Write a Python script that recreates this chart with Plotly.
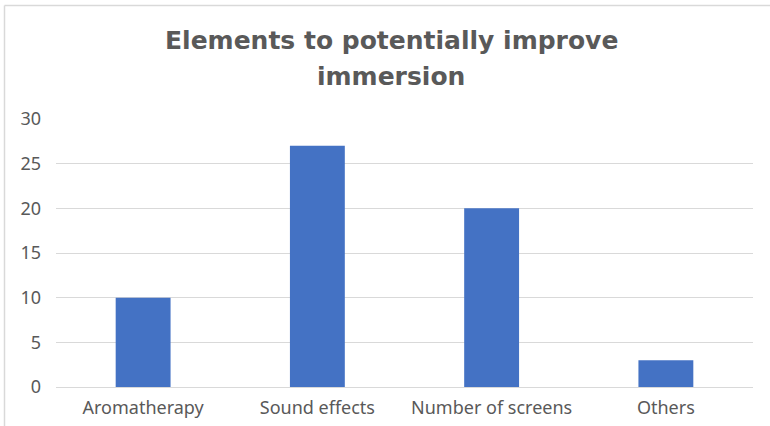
import plotly.graph_objects as go

categories = ["Aromatherapy", "Sound effects", "Number of screens", "Others"]
values = [10, 27, 20, 3]
title_lines = ["Elements to potentially improve", "immersion"]
y_ticks = [0, 5, 10, 15, 20, 25, 30]

W, H = 770, 426
L, R, T, B = 56, 17, 119, 39
pw, ph = W - L - R, H - T - B

def px_x(x):
    return (x - L) / pw

def px_y(y):
    return (H - B - y) / ph

fig = go.Figure(go.Bar(x=categories, y=values, marker=dict(color="#4472C4", line=dict(width=0))))

fig.update_layout(
    width=W, height=H,
    margin=dict(l=L, r=R, t=T, b=B),
    paper_bgcolor="white", plot_bgcolor="white",
    bargap=0.685,
    showlegend=False,
    font=dict(family="Noto Sans", color="#595959"),
)
fig.update_yaxes(
    range=[0, 30], tickvals=y_ticks, showgrid=True, gridcolor="#d9d9d9", gridwidth=1,
    zeroline=True, zerolinecolor="#d9d9d9", zerolinewidth=1, showline=False,
    tickfont=dict(size=18, color="#595959"), ticklabelstandoff=14, automargin=False,
)
fig.update_xaxes(showline=False, showgrid=False, tickfont=dict(size=18, color="#595959"),
                 ticklabelstandoff=8, automargin=False)

for i, (line, cy) in enumerate(zip(title_lines, [41, 76])):
    fig.add_annotation(
        text="<b>" + line + "</b>", x=px_x(391), y=px_y(cy), xref="paper", yref="paper",
        xanchor="center", yanchor="middle", showarrow=False,
        font=dict(size=25, color="#595959", family="DejaVu Sans"),
    )

# outer border (top and left)
fig.add_shape(type="line", xref="paper", yref="paper", x0=px_x(4.5), x1=px_x(771), y0=px_y(5.5), y1=px_y(5.5),
              line=dict(color="#d9d9d9", width=1.5))
fig.add_shape(type="line", xref="paper", yref="paper", x0=px_x(4.5), x1=px_x(4.5), y0=px_y(5.5), y1=px_y(427),
              line=dict(color="#d9d9d9", width=1.5))

fig.write_html("out.html")
